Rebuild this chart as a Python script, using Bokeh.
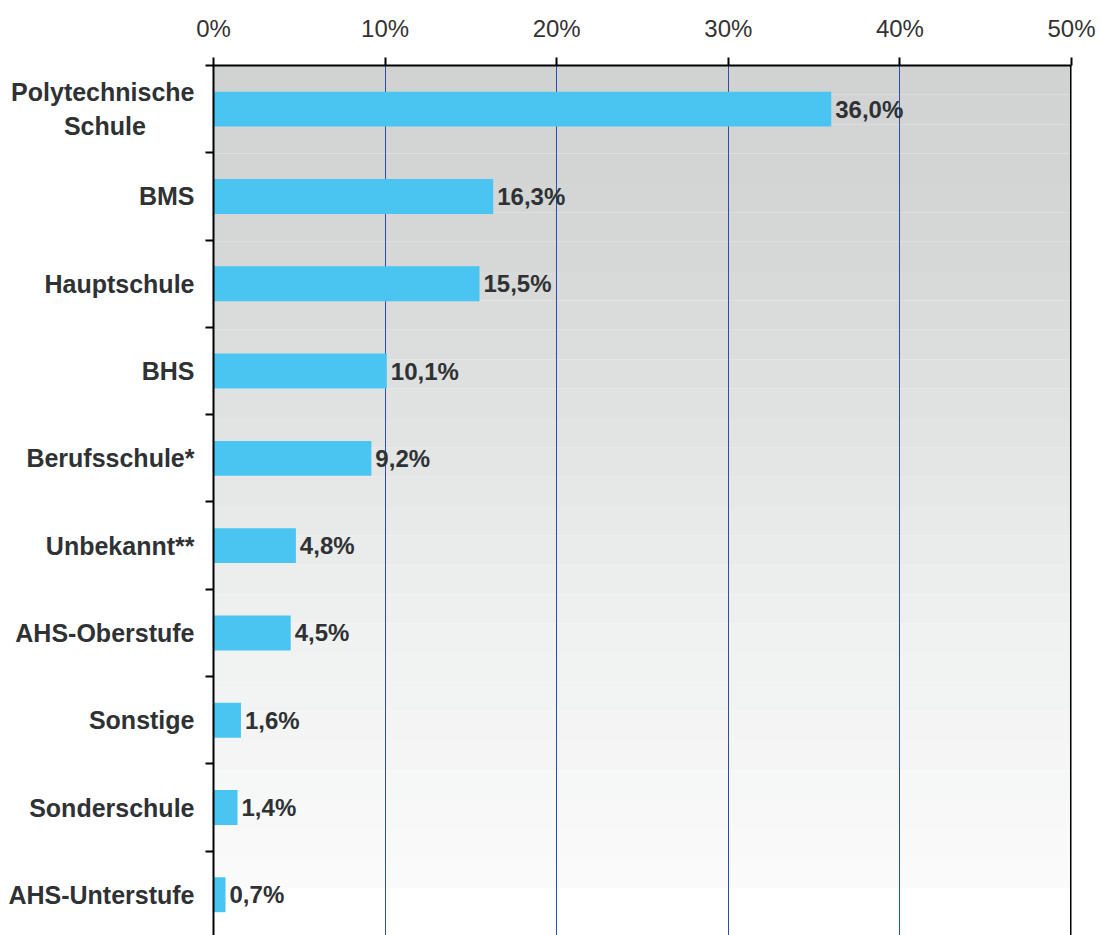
from bokeh.plotting import figure
from bokeh.models import Range1d, FixedTicker, Span, ColumnDataSource
from bokeh.core.properties import value
from bokeh.embed import file_html
from bokeh.resources import INLINE

# ---- data ----
categories = ["Polytechnische\nSchule", "BMS", "Hauptschule", "BHS", "Berufsschule*",
              "Unbekannt**", "AHS-Oberstufe", "Sonstige", "Sonderschule", "AHS-Unterstufe"]
values = [36.0, 16.3, 15.5, 10.1, 9.2, 4.8, 4.5, 1.6, 1.4, 0.7]
value_labels = ["36,0%", "16,3%", "15,5%", "10,1%", "9,2%", "4,8%", "4,5%", "1,6%", "1,4%", "0,7%"]
x_ticks = [0, 10, 20, 30, 40, 50]
x_tick_labels = ["0%", "10%", "20%", "30%", "40%", "50%"]

n = len(categories)
centers = [i + 0.5 for i in range(n)]
boundaries = list(range(0, n + 1))

FONT = "Liberation Sans"
TXT = "#2f3234"
CAT_SIZE = "25px"


def centre_lines(label):
    """Visually centre the lines of a multi-line (right-aligned) tick label
    by padding shorter lines with no-break spaces."""
    lines = label.split("\n")
    if len(lines) == 1:
        return label
    longest = max(len(s) for s in lines)
    out = []
    for s in lines:
        pad = int(round((longest - len(s)) * 0.52 / 2 / 0.278))
        out.append(s + "\u00a0" * pad)
    return "\n".join(out)


p = figure(width=1100, height=935, x_range=Range1d(0, 50), y_range=Range1d(9.966, 0),
           x_axis_location="above", output_backend="svg", toolbar_location=None,
           min_border_left=213, min_border_right=29, min_border_top=65, min_border_bottom=0)
p.outline_line_color = None
p.background_fill_color = "white"
p.border_fill_color = "white"

# background gradient (stepped bands)
stops = [(0.0, (209, 211, 211)), (2.1, (213, 215, 215)), (6.4, (239, 240, 240)), (9.42, (251, 251, 251))]
nb = 28
g_end = 9.42
tops, bots, cols = [], [], []
for k in range(nb):
    t0 = g_end * k / nb
    t1 = g_end * (k + 1) / nb
    tm = (t0 + t1) / 2
    for j in range(len(stops) - 1):
        if stops[j][0] <= tm <= stops[j + 1][0]:
            a, ca = stops[j]
            b, cb = stops[j + 1]
            f = (tm - a) / (b - a)
            c = tuple(int(round(ca[m] + (cb[m] - ca[m]) * f)) for m in range(3))
            break
    tops.append(t0)
    bots.append(t1)
    cols.append("#%02x%02x%02x" % c)
bg = p.quad(left=0, right=50, top=tops, bottom=bots, fill_color=cols, line_color=None)
bg.level = "image"

src = ColumnDataSource(dict(y=centers, v=values, t=value_labels))
p.hbar(y="y", right="v", left=0, height=0.4, source=src, fill_color="#4ac5f1", line_color=None)
p.text(x="v", y="y", text="t", source=src, x_offset=4, text_baseline="middle", text_align="left",
       text_font=value(FONT), text_font_style="bold", text_font_size="24px", text_color=TXT)

# grid
p.xgrid.ticker = FixedTicker(ticks=x_ticks)
p.xgrid.grid_line_color = "#2d4ea8"
p.xgrid.grid_line_width = 1
p.ygrid.visible = False

# top axis
xa = p.xaxis[0]
xa.ticker = FixedTicker(ticks=x_ticks)
xa.major_label_overrides = dict(zip(x_ticks, x_tick_labels))
xa.axis_line_color = "black"
xa.axis_line_width = 2
xa.major_tick_line_color = "black"
xa.major_tick_line_width = 2
xa.major_tick_out = 8
xa.major_tick_in = 0
xa.minor_tick_line_color = None
xa.major_label_standoff = 16
xa.major_label_text_font = FONT
xa.major_label_text_font_size = "24px"
xa.major_label_text_color = "#333333"

# left axis: labels at category centres, ticks at category boundaries
ya = p.yaxis[0]
ya.ticker = FixedTicker(ticks=centers, minor_ticks=boundaries)
ya.major_label_overrides = {c: centre_lines(name) for c, name in zip(centers, categories)}
ya.axis_line_color = "black"
ya.axis_line_width = 2
ya.major_tick_line_color = None
ya.major_tick_out = 0
ya.major_tick_in = 0
ya.minor_tick_line_color = "black"
ya.minor_tick_line_width = 2
ya.minor_tick_out = 8
ya.minor_tick_in = 0
ya.major_label_standoff = 11
ya.major_label_text_font = FONT
ya.major_label_text_font_style = "bold"
ya.major_label_text_font_size = CAT_SIZE
ya.major_label_text_color = TXT

p.add_layout(Span(location=50, dimension="height", line_color="black", line_width=3))

open("out.html", "w").write(file_html(p, INLINE))
